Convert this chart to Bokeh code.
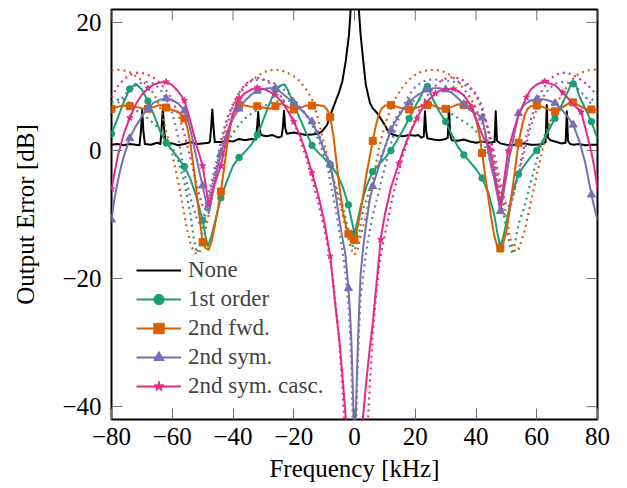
import math
from bokeh.plotting import figure
from bokeh.models import Legend, LegendItem, FixedTicker, Range1d
from bokeh.embed import file_html
from bokeh.resources import INLINE

# ---------------- data (frequency kHz, output error dB) ----------------
X_RANGE = (-80, 80)
Y_RANGE = (-42, 22)
X_TICKS = [-80, -60, -40, -20, 0, 20, 40, 60, 80]
Y_TICKS = [-40, -20, 0, 20]

none_pts = [(-80,0.9),(-78,1.0),(-76,0.8),(-74,1.0),(-72,0.9),(-70.8,0.8),(-70.3,3.0),(-69.9,6.3),(-69.5,3.0),(-69,1.0),
            (-67,0.9),(-65,1.2),(-63.9,1.0),(-63.5,3.5),(-63.1,6.6),(-62.7,3.5),(-62.2,1.2),(-60,1.1),(-58,0.8),(-56,1.0),
            (-54,1.3),(-52,1.0),(-50,1.1),(-48,1.2),(-47.6,1.4),(-47.2,3.5),(-46.8,6.4),(-46.4,3.5),(-46,1.3),(-44,1.3),
            (-42,1.5),(-40,1.4),(-38,1.8),(-36,1.6),(-34,1.8),(-32.5,1.7),(-32.1,3.5),(-31.7,6.0),(-31.3,3.5),(-30.8,2.4),
            (-29,2.2),(-27,2.4),(-25,2.0),(-24,2.2),(-23.6,3.5),(-23.2,6.2),(-22.8,3.5),(-22.3,2.6),(-20,2.8),(-18,2.6),
            (-16,2.4),(-14,2.5),(-12,2.6),(-10.6,3.0),(-9,4.0),(-7.9,5.6),(-6.2,7.7),(-5,9.2),(-4,10.8),(-2.9,13.9),
            (-1.8,18.1),(-1.3,21.7),(-0.8,27.0),(0,32.0),(0.8,27.0),(1.3,23.0),(2,18.1),(2.9,13.9),(3.7,10.3),(5.1,7.4),
            (6,6.6),(7.5,5.8),(9,4.7),(10.2,3.8),(11,3.0),(12.5,2.5),(14,2.3),(16,2.2),(18,2.4),(20,2.3),
            (21,2.4),(22,2.0),(22.8,2.2),(23.2,6.1),(23.6,3.0),(24,1.9),(26,1.7),(28,1.6),(30,1.8),(30.7,2.0),
            (31.1,6.9),(31.5,2.5),(32,1.6),(34,1.5),(36,1.7),(38,1.4),(40,1.2),(42,1.4),(44,1.2),(46.1,1.3),
            (46.5,6.1),(46.9,1.5),(48,1.1),(50,0.9),(52,0.8),(54,1.0),(56,1.1),(58,0.9),(60,0.9),(62,1.0),
            (62.9,1.3),(63.3,7.1),(63.7,2.0),(64.5,1.6),(66,1.4),(68,1.1),(69.5,1.2),(69.9,6.1),(70.3,1.5),(71,1.0),
            (72,0.9),(74,1.0),(76,0.8),(78,0.9),(80,0.9)]

ord1_pts = [(-80,2.6),(-78,5.0),(-76,7.5),(-74,9.6),(-72,10.4),(-70,9.5),(-68,7.7),(-66,5.5),(-64,3.0),(-62,1.15),
            (-60,0.0),(-58,-1.2),(-56,-2.5),(-54,-4.5),(-52,-7.3),(-50,-10.9),(-49,-13.5),(-48.3,-15.0),(-47,-13.2),(-46,-11.3),
            (-44,-7.4),(-42,-4.8),(-40,-2.4),(-38,-1.1),(-36,-0.2),(-34,0.9),(-32,2.4),(-30,4.8),(-28,7.3),(-26,9.5),
            (-24,10.2),(-23,10.3),(-22,9.5),(-20,7.3),(-18,5.0),(-16,2.8),(-14,0.8),(-12,-0.3),(-10,-1.2),(-8,-2.2),
            (-6,-3.5),(-4,-5.5),(-2,-8.5),(-1,-10.8),(0,-13.0),(1,-11.0),(2,-8.8),(4,-5.5),(6,-3.3),(8,-2.2),
            (10,-1.2),(12,0.0),(14,1.6),(16,3.2),(18,5.0),(20,6.9),(22,8.6),(23,9.8),(24,10.0),(25,9.0),
            (26,7.8),(28,6.0),(30,4.5),(32,2.5),(34,0.6),(36,-0.7),(38,-1.8),(40,-2.9),(42,-4.3),(44,-6.5),
            (46,-10.0),(47,-12.8),(48,-15.0),(49,-13.5),(50,-11.3),(52,-6.5),(54,-3.7),(56,-2.3),(58,-1.0),(60,0.0),
            (62,1.5),(64,3.2),(66,5.0),(68,6.9),(70,8.9),(71,10.0),(72,10.4),(73,10.0),(74,8.5),(76,6.5),
            (78,4.5),(80,1.8)]

fwd_pts = [(-80,6.5),(-78,6.8),(-76,7.0),(-74,6.9),(-72,6.8),(-70,6.6),(-68,6.5),(-66,6.8),(-64,7.1),(-62,6.7),
           (-60,6.3),(-58,6.0),(-56,5.0),(-55,3.5),(-54,1.0),(-53,-2.5),(-52,-6.5),(-51,-10.5),(-50,-14.3),(-49,-15.3),
           (-48,-15.5),(-47,-14.2),(-46,-11.8),(-45,-9.2),(-44,-6.4),(-43,-3.0),(-42,0.5),(-41,3.5),(-40,5.6),(-39,6.6),
           (-38,7.1),(-36,7.0),(-34,6.8),(-32,6.9),(-30,6.7),(-28,6.5),(-26,6.9),(-24,7.3),(-22,6.8),(-20,6.4),
           (-18,6.6),(-16,7.0),(-14,7.0),(-12,7.1),(-10,6.9),(-9,6.4),(-8,5.2),(-7,2.5),(-6,-1.5),(-5,-5.5),
           (-4,-9.0),(-3,-11.5),(-2,-13.0),(-1,-14.3),(0,-14.0),(1,-12.0),(2,-9.5),(3,-6.5),(4,-3.5),(5,-1.0),
           (6,1.5),(7,3.8),(8,5.6),(9,6.6),(10,7.0),(12,7.1),(14,6.8),(16,6.5),(18,6.4),(20,6.6),
           (22,6.9),(24,7.1),(26,7.0),(28,6.6),(30,6.5),(32,6.8),(34,7.2),(36,7.1),(37,7.0),(38,6.7),
           (39,6.0),(40,4.8),(41,2.8),(42,-0.4),(43,-3.8),(44,-7.2),(45,-10.5),(46,-13.3),(47,-15.0),(48,-15.3),
           (49,-14.5),(50,-12.6),(51,-9.5),(52,-6.0),(53,-2.5),(54,1.2),(55,3.5),(56,5.5),(57,6.5),(58,6.9),
           (60,7.0),(62,6.8),(64,6.4),(66,6.1),(68,6.6),(70,7.2),(72,7.5),(74,7.0),(76,6.5),(78,6.4),(80,6.3)]

sym_pts = [(-80,-10.8),(-79,-7.5),(-78,-5.0),(-77,-2.8),(-76,-1.0),(-74,1.9),(-72,3.8),(-70,5.3),(-68,6.6),(-66,7.5),
           (-64,7.9),(-62,8.1),(-60,7.9),(-58,7.3),(-56,6.2),(-55,5.0),(-54,3.2),(-53,1.0),(-52,-1.2),(-51,-3.5),
           (-50,-5.5),(-49,-7.8),(-48,-9.8),(-47,-7.5),(-46,-4.8),(-45,-2.5),(-44,-0.5),(-42,2.8),(-40,5.0),(-38,6.5),
           (-36,7.8),(-34,8.7),(-32,9.3),(-30,9.6),(-28,9.7),(-26,9.7),(-24,9.0),(-22,8.2),(-20,7.4),(-18,6.5),
           (-16,5.6),(-14,4.5),(-12,2.5),(-10,0.0),(-8,-2.2),(-7,-4.5),(-6,-7.5),(-5,-10.8),(-4,-13.6),(-3,-16.2),
           (-2,-21.5),(-1.5,-25.0),(-1,-30.0),(-0.5,-38.0),(0,-48.0),(0.5,-40.0),(1,-32.0),(1.5,-25.0),(2,-19.4),(3,-14.5),
           (4,-11.0),(5,-7.8),(6,-5.6),(8,-2.5),(10,0.5),(12,3.2),(14,5.0),(16,6.4),(18,7.5),(20,8.4),
           (22,9.0),(24,9.5),(26,9.7),(28,9.7),(30,9.5),(32,9.0),(34,8.2),(36,7.2),(38,6.3),(40,5.8),
           (42,5.1),(43,3.0),(44,0.0),(45,-2.5),(46,-4.5),(47,-6.8),(48,-9.5),(49,-6.8),(50,-4.0),(51,-1.0),
           (52,1.0),(53,3.5),(54,5.8),(56,7.2),(58,7.8),(60,8.0),(62,8.0),(64,7.8),(66,7.4),(68,6.5),
           (70,5.4),(72,4.0),(74,1.5),(76,-2.0),(78,-6.9),(79,-9.0),(80,-10.8)]

casc_pts = [(-80,-6.0),(-79,-3.5),(-78,-1.0),(-76,2.5),(-74,5.1),(-72,7.2),(-70,8.7),(-68,9.7),(-66,10.3),(-64,10.6),
            (-62,10.7),(-60,10.2),(-58,9.2),(-56,7.8),(-54,4.5),(-52,0.8),(-50,-2.4),(-49,-5.3),(-48,-8.7),(-47,-6.8),
            (-46,-5.2),(-45,-3.8),(-44,-2.4),(-42,2.0),(-40,5.8),(-38,8.0),(-36,9.0),(-34,9.5),(-32,9.8),(-30,9.6),
            (-28,9.2),(-26,8.6),(-24,7.6),(-22,6.2),(-20,4.5),(-18,2.4),(-16,-0.3),(-14,-3.5),(-12,-6.8),(-10,-11.0),
            (-8,-16.5),(-6,-25.5),(-5,-29.5),(-4,-35.0),(-3,-41.0),(-2,-47.0),(0,-60.0),(2,-47.0),(2.6,-43.0),(3,-40.5),
            (4,-35.5),(5,-31.0),(6,-27.0),(7,-22.0),(8,-17.0),(8.6,-13.9),(10,-10.0),(12,-5.8),(14.6,-2.0),(16,0.0),
            (18,2.5),(20.6,5.0),(22,6.3),(24,7.7),(26.6,8.9),(28,9.3),(30,9.6),(32.6,9.6),(34,9.3),(36,8.6),
            (38.6,6.8),(40,5.0),(42,2.5),(44.6,0.2),(46,-3.5),(47,-6.0),(48,-8.7),(49,-5.5),(50,-2.0),(50.6,-0.1),
            (52,2.5),(54,5.5),(56.6,8.3),(58,9.5),(60,10.3),(62.6,10.8),(64,10.5),(66,10.2),(68.6,9.0),(70,8.3),
            (72,7.2),(74.6,6.0),(76,3.5),(78,-0.3),(79,-2.8),(80,-6.0)]

# theoretical (dotted) curves
ord1_th = [(-80,7.5),(-78,7.9),(-76,8.0),(-74,7.4),(-72,6.3),(-70,5.6),(-68,5.0),(-66,4.2),(-64,3.2),(-62,2.0),
           (-60,0.4),(-58,-1.6),(-56,-5.0),(-54,-10.0),(-53,-13.5),(-52,-16.0),(-51,-15.0),(-50,-12.0),(-48,-7.5),(-46,-3.5),
           (-44,-0.8),(-42,1.2),(-40,2.7),(-38,4.0),(-36,5.0),(-34,5.7),(-32,6.3),(-30,6.9),(-28,7.3),(-26,7.6),
           (-24,7.8),(-22,7.8),(-20,7.5),(-18,6.8),(-16,5.6),(-14,4.0),(-12,1.8),(-10,-0.8),(-8,-3.2),(-6,-5.8),
           (-4,-8.5),(-2,-12.5),(-1,-14.5),(0,-15.5),(1,-14.5),(2,-11.5),(3,-9.0),(5,-6.0),(7,-3.8),(9,-0.6),
           (10,0.4),(12,3.5),(14,5.4),(16,6.6),(18,7.4),(20,7.8),(22,7.9),(24,7.7),(26,7.2),(28,6.7),
           (30,6.2),(32,5.7),(34,5.1),(36,4.5),(38,3.9),(40,3.0),(42,1.6),(44,-0.5),(46,-3.5),(48,-7.5),
           (50,-12.0),(51,-14.5),(52,-16.2),(53,-14.0),(54,-11.5),(56,-8.7),(58,-5.0),(60,-1.5),(62,1.6),(64,4.0),
           (66,5.5),(68,6.5),(70,7.3),(72,7.8),(74,8.1),(76,8.2),(78,8.0),(80,7.6)]

fwd_th = [(-80,12.5),(-78,12.6),(-76,12.5),(-74,12.2),(-72,11.6),(-70,11.0),(-68,10.0),(-66,8.8),(-64,6.8),(-62,3.0),
          (-60,-0.6),(-58,-5.0),(-56,-10.0),(-55,-12.6),(-54,-14.5),(-53,-15.7),(-52,-16.2),(-51,-15.8),(-50,-14.5),(-48,-10.0),
          (-46,-4.5),(-44,1.5),(-42,5.0),(-40,7.0),(-38,8.7),(-36,9.9),(-34,10.9),(-32,11.6),(-30,12.2),(-28,12.5),
          (-26,12.6),(-24,12.5),(-22,12.1),(-20,11.6),(-18,10.8),(-16,9.6),(-14,8.0),(-12,5.0),(-10,1.0),(-8,-2.7),
          (-6,-6.2),(-4,-9.8),(-2,-13.8),(-1,-15.5),(0,-16.3),(1,-15.5),(2,-13.5),(4,-9.7),(6,-4.8),(8,0.2),
          (10,4.0),(12,6.6),(14,8.6),(16,10.0),(18,11.1),(20,11.8),(22,12.3),(24,12.5),(26,12.6),(28,12.5),
          (30,12.2),(32,11.6),(34,10.8),(36,9.6),(38,8.3),(40,6.6),(42,4.2),(44,1.3),(46,-2.0),(48,-6.0),
          (50,-10.0),(51,-13.0),(52,-15.2),(53,-15.8),(54,-15.5),(56,-12.6),(58,-8.2),(60,-3.8),(62,0.3),(64,3.8),
          (66,6.6),(68,8.6),(70,10.0),(72,11.2),(74,12.0),(76,12.4),(78,12.6),(80,12.6)]

sym_th = [(-80,5.8),(-78,7.3),(-76,8.5),(-74,9.5),(-72,10.2),(-70,10.6),(-68,10.7),(-66,10.4),(-64,9.6),(-62,8.0),
          (-60,5.8),(-58,2.0),(-56,-3.5),(-54,-7.5),(-52,-10.5),(-51,-11.5),(-50,-11.0),(-49,-8.5),(-48,-6.5),(-47,-4.8),
          (-46,-2.7),(-44,1.0),(-42,4.8),(-40,7.3),(-38,9.0),(-36,10.2),(-34,10.8),(-32,11.0),(-30,11.0),(-28,10.8),
          (-26,10.4),(-24,9.8),(-22,9.0),(-20,8.0),(-18,6.9),(-16,5.6),(-14,4.2),(-12,3.0),(-10,0.2),(-9,-2.2),
          (-8,-4.8),(-6,-9.8),(-5,-12.6),(-4,-15.5),(-3,-19.0),(-2,-24.0),(-1.5,-28.0),(-1,-34.0),(-0.5,-44.0),(0,-55.0),
          (0.5,-44.0),(1,-34.0),(1.5,-28.0),(2,-23.0),(3,-19.0),(4,-15.3),(5,-12.5),(6,-10.2),(7,-8.3),(8,-6.4),
          (10,-2.6),(12,1.0),(14,4.3),(16,6.9),(18,8.7),(20,9.9),(22,10.6),(24,11.0),(26,11.1),(28,11.0),
          (30,10.9),(32,10.8),(34,10.6),(36,10.3),(38,9.7),(40,8.9),(42,7.0),(44,3.0),(45.5,-0.5),(47,-5.0),
          (48,-7.8),(49,-9.6),(50,-10.5),(51,-9.5),(52.6,-6.4),(54,-3.6),(55.4,-1.2),(57.6,3.0),(60,6.5),(62,8.3),
          (64,9.6),(66,10.4),(68,10.7),(70,10.6),(72,10.2),(74,9.4),(76,8.4),(78,7.2),(80,5.8)]

casc_th = [(-80,8.3),(-78,10.0),(-76,11.1),(-74,11.8),(-72,12.1),(-70,12.1),(-68,11.8),(-66,11.3),(-64,10.5),(-62,9.4),
           (-60,7.9),(-58,5.7),(-56,2.5),(-54,-1.2),(-52,-5.3),(-51,-7.2),(-50,-8.6),(-49.5,-9.0),(-49,-8.8),(-48,-7.5),
           (-47,-5.8),(-46,-3.8),(-44,0.2),(-42,4.0),(-40,7.0),(-38,9.0),(-36,10.3),(-34,11.0),(-32,11.3),(-30,11.1),
           (-28,10.5),(-26,9.6),(-24,8.3),(-22,6.6),(-20,4.5),(-18,2.0),(-16,-1.0),(-14,-4.5),(-12,-8.0),(-10,-12.0),
           (-8,-17.0),(-7,-20.5),(-6,-25.0),(-5,-30.0),(-4,-37.0),(-3.3,-43.0),(-2.8,-48.0),(3.8,-48.0),(4.3,-43.0),(5,-37.0),
           (6,-29.0),(7,-23.0),(8,-18.5),(9,-15.5),(10,-13.2),(12,-8.5),(14,-4.4),(16,-0.8),(18,2.3),(20,4.9),
           (22,7.0),(24,8.6),(26,9.8),(28,10.7),(30,11.2),(32,11.4),(34,11.3),(36,10.9),(38,10.0),(40,8.6),
           (42,6.4),(44,3.5),(46,-0.5),(48,-5.0),(49,-7.0),(50,-8.5),(50.5,-8.8),(51,-8.6),(52,-7.5),(53,-5.5),
           (54,-3.3),(56,1.0),(58,4.8),(60,7.7),(62,9.6),(64,11.0),(66,11.7),(68,12.1),(70,12.1),(72,11.8),
           (74,11.2),(76,10.5),(78,9.6),(80,8.5)]

# frequencies where marks are drawn
MARK_F = [-80, -74, -68, -62, -56, -50, -44, -38, -32, -26, -20, -14, -8, -2,
          0, 6, 12, 18, 24, 30, 36, 42, 48, 54, 60, 66, 72, 78]
MARK_F_CASC = [-80, -74, -68, -62, -56, -50, -44, -38, -32, -26, -20, -14, -8, -2,
               2.6, 8.6, 14.6, 20.6, 26.6, 32.6, 38.6, 44.6, 50.6, 56.6, 62.6, 68.6, 74.6]

C_NONE, C_1, C_F, C_S, C_C = "#000000", "#1b9e77", "#d95f02", "#7570b3", "#e7298a"
TICK_C = "#707070"
FONT = "Liberation Serif"


def xs(pts):
    return [a for a, _ in pts]


def ys(pts):
    return [b for _, b in pts]


def marks(pts, fs):
    d = dict(pts)
    return fs, [d[f] for f in fs]


p = figure(frame_width=486, frame_height=410,
           x_range=Range1d(*X_RANGE), y_range=Range1d(*Y_RANGE),
           output_backend="svg", toolbar_location=None,
           min_border_left=111, min_border_top=9, min_border_right=14, min_border_bottom=0,
           background_fill_color="white", border_fill_color="white")
p.grid.visible = False
p.outline_line_color = "black"
p.outline_line_width = 2

labels_x = {t: str(t).replace("-", "\u2212") for t in X_TICKS}
labels_y = {t: str(t).replace("-", "\u2212") for t in Y_TICKS}

p.xaxis.ticker = FixedTicker(ticks=X_TICKS)
p.yaxis.ticker = FixedTicker(ticks=Y_TICKS)
p.xaxis.major_label_overrides = labels_x
p.yaxis.major_label_overrides = labels_y
p.xaxis.axis_label = "Frequency [kHz]"
p.yaxis.axis_label = "Output Error [dB]"
for ax in (p.xaxis[0], p.yaxis[0]):
    ax.axis_line_color = None
    ax.major_tick_in = 11
    ax.major_tick_out = 0
    ax.major_tick_line_color = TICK_C
    ax.minor_tick_line_color = None
    ax.major_label_text_font = FONT
    ax.major_label_text_font_size = "25px"
    ax.major_label_text_color = "black"
    ax.axis_label_text_font = FONT
    ax.axis_label_text_font_size = "25px"
    ax.axis_label_text_font_style = "normal"
    ax.axis_label_text_color = "black"
p.xaxis.major_label_standoff = 8
p.xaxis.axis_label_standoff = 7
p.yaxis.major_label_standoff = 10
p.yaxis.axis_label_standoff = 20

# mirrored tick marks on the top and right edges (inside the frame)
p.ray(x=X_TICKS, y=[Y_RANGE[1]] * len(X_TICKS), length=11, length_units="screen",
      angle=-math.pi / 2, line_color=TICK_C, line_width=1)
p.ray(x=[X_RANGE[1]] * len(Y_TICKS), y=Y_TICKS, length=11, length_units="screen",
      angle=math.pi, line_color=TICK_C, line_width=1)

# black reference
r_none = p.line(xs(none_pts), ys(none_pts), line_color=C_NONE, line_width=2, line_join="round")

# theoretical dotted curves
for pts, c in ((ord1_th, C_1), (fwd_th, C_F), (sym_th, C_S), (casc_th, C_C)):
    p.line(xs(pts), ys(pts), line_color=c, line_width=2.2, line_dash="2 4")

items = [LegendItem(label="None", renderers=[r_none])]
series = [("1st order", ord1_pts, C_1, "circle", 6.5, MARK_F),
          ("2nd fwd.", fwd_pts, C_F, "square", 7, MARK_F),
          ("2nd sym.", sym_pts, C_S, "triangle", 8, MARK_F),
          ("2nd sym. casc.", casc_pts, C_C, "star", 6.5, MARK_F_CASC)]
for name, pts, c, mk, sz, mf in series:
    rl = p.line(xs(pts), ys(pts), line_color=c, line_width=2, line_join="round")
    mx, my = marks(pts, mf)
    rm = p.scatter(mx, my, marker=mk, size=sz, fill_color=c, line_color=c)
    items.append(LegendItem(label=name, renderers=[rl, rm]))

legend = Legend(items=items, location=(25, 20), border_line_color=None,
                background_fill_alpha=0, padding=0, margin=0, spacing=3,
                glyph_width=45, glyph_height=26, label_height=26, label_standoff=7,
                label_text_font=FONT, label_text_font_size="23px")
p.add_layout(legend)

open("out.html", "w").write(file_html(p, INLINE))
